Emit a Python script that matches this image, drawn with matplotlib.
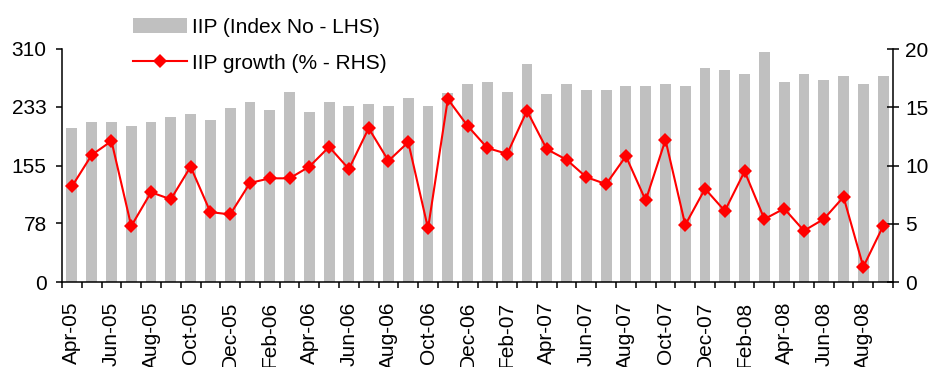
import matplotlib
matplotlib.use("Agg")
import matplotlib.pyplot as plt
from matplotlib.ticker import FixedLocator
import numpy as np

months = ["Apr-05", "May-05", "Jun-05", "Jul-05", "Aug-05", "Sep-05", "Oct-05", "Nov-05",
          "Dec-05", "Jan-06", "Feb-06", "Mar-06", "Apr-06", "May-06", "Jun-06", "Jul-06",
          "Aug-06", "Sep-06", "Oct-06", "Nov-06", "Dec-06", "Jan-07", "Feb-07", "Mar-07",
          "Apr-07", "May-07", "Jun-07", "Jul-07", "Aug-07", "Sep-07", "Oct-07", "Nov-07",
          "Dec-07", "Jan-08", "Feb-08", "Mar-08", "Apr-08", "May-08", "Jun-08", "Jul-08",
          "Aug-08", "Sep-08"]

iip_index = [205, 213, 213, 208, 213, 219, 224, 216, 232, 240,
             229, 253, 226, 240, 234, 237, 234, 245, 234, 251,
             263, 266, 253, 290, 250, 263, 256, 256, 261, 261,
             263, 261, 285, 282, 277, 306, 266, 277, 269, 274,
             263, 274]

iip_growth = [8.2, 10.9, 12.1, 4.8, 7.7, 7.1, 9.9, 6.0, 5.8, 8.5,
              8.9, 8.9, 9.9, 11.6, 9.7, 13.2, 10.4, 12.0, 4.6, 15.7,
              13.4, 11.5, 11.0, 14.7, 11.4, 10.5, 9.0, 8.4, 10.8, 7.0,
              12.2, 4.9, 8.0, 6.1, 9.5, 5.4, 6.3, 4.4, 5.4, 7.3,
              1.3, 4.8]

left_ticks = [0, 78, 155, 233, 310]
right_ticks = [0, 5, 10, 15, 20]

plt.rcParams['font.family'] = ['Liberation Sans', 'DejaVu Sans']
FS = 15

W, H = 933, 367
fig = plt.figure(figsize=(W / 100, H / 100), dpi=100)
ax = fig.add_axes([62 / W, 1 - 282 / H, (893 - 62) / W, (282 - 49) / H])

x = np.arange(len(months))
bars = ax.bar(x, iip_index, width=0.55, color="#C0C0C0", linewidth=0,
              label="IIP (Index No - LHS)")
ax.set_xlim(-0.5, len(months) - 0.5)
ax.set_ylim(0, 310)
ax.set_yticks(left_ticks)
ax.set_yticklabels([str(t) for t in left_ticks], fontsize=FS)
ax.tick_params(axis="y", direction="out", length=4, width=1.1, pad=7)

# month labels every second month; tick marks at category boundaries
ax.set_xticks(x[::2])
ax.set_xticklabels(months[::2], rotation=90, fontsize=FS, va="top", ha="center")
ax.tick_params(axis="x", which="major", length=0, pad=14)
ax.xaxis.set_minor_locator(FixedLocator(np.arange(-0.5, len(months), 1.0)))
ax.tick_params(axis="x", which="minor", direction="out", length=4, width=1.1)

for s in ["top", "right"]:
    ax.spines[s].set_visible(False)
for s in ["left", "bottom"]:
    ax.spines[s].set_linewidth(1.1)

ax2 = ax.twinx()
line, = ax2.plot(x, iip_growth, color="#FF0000", linewidth=1.5, marker="D",
                 markersize=7.2, markeredgewidth=0, label="IIP growth (% - RHS)")
ax2.set_ylim(0, 20)
ax2.set_yticks(right_ticks)
ax2.set_yticklabels([str(t) for t in right_ticks], fontsize=FS)
ax2.tick_params(axis="y", direction="inout", length=8, width=1.1, pad=5)
for s in ["top", "left", "bottom"]:
    ax2.spines[s].set_visible(False)
ax2.spines["right"].set_linewidth(1.1)

fig.legend(handles=[bars, line], loc="upper left",
           bbox_to_anchor=(133 / W, 1 - 18 / H), frameon=False, fontsize=FS,
           handlelength=2.6, handletextpad=0.25, labelspacing=0.8,
           borderpad=0, borderaxespad=0)

fig.savefig("out.png", dpi=100)
